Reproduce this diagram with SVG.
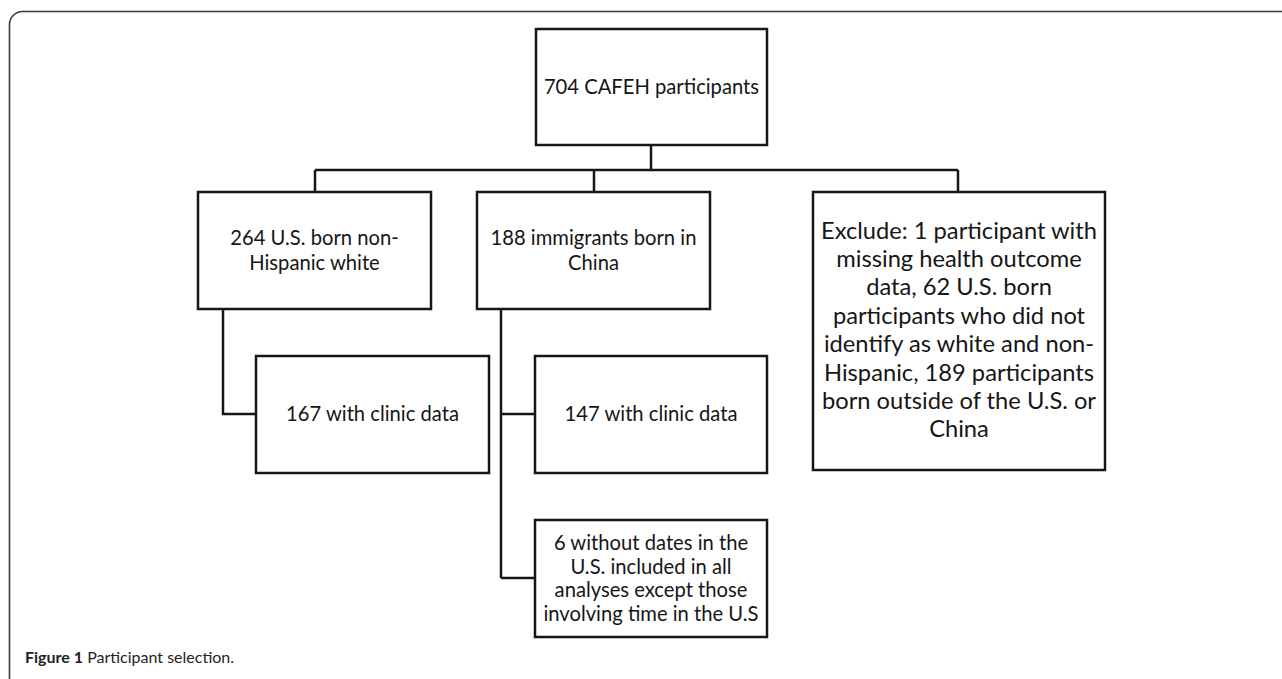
<svg xmlns="http://www.w3.org/2000/svg" width="1282" height="679" viewBox="0 0 1282 679">
<style>
.box{fill:#fff;stroke:#161616;stroke-width:2.5}
.conn{fill:none;stroke:#161616;stroke-width:2.5}
.t{font-family:Lato,"Liberation Sans",sans-serif;fill:#161616;text-anchor:middle}
.m{font-size:20.2px}
.l{font-size:23.7px}
.cap{font-family:Lato,"Liberation Sans",sans-serif;font-size:16px;fill:#222}
</style>
<rect width="1282" height="679" fill="#fff"/>
<path d="M9.5 679 V25 A13 13 0 0 1 22.5 11.5 H1282" fill="none" stroke="#3a3a3a" stroke-width="1.6"/>
<g id="connectors">
<path class="conn" d="M651 145 V170 M315 170 H958 M315 170 V192 M594 170 V192 M958 170 V192"/>
<path class="conn" d="M223 309 V414 H256"/>
<path class="conn" d="M501 309 V578 M501 414 H535 M501 578 H535"/>
</g>
<g id="n704">
<rect class="box" x="536" y="29" width="231" height="116"/>
<text class="t m" x="651.5" y="94">704 CAFEH participants</text>
</g>
<g id="n264">
<rect class="box" x="198" y="192" width="233" height="117"/>
<text class="t m" x="314.5" y="245">264 U.S. born non-</text>
<text class="t m" x="314.5" y="270">Hispanic white</text>
</g>
<g id="n188">
<rect class="box" x="477" y="192" width="233" height="117"/>
<text class="t m" x="593.5" y="245">188 immigrants born in</text>
<text class="t m" x="593.5" y="270">China</text>
</g>
<g id="nexclude">
<rect class="box" x="813" y="192" width="292" height="278"/>
<text class="t l" x="959" y="238.5">Exclude: 1 participant with</text>
<text class="t l" x="959" y="266.9">missing health outcome</text>
<text class="t l" x="959" y="295.3">data, 62 U.S. born</text>
<text class="t l" x="959" y="323.7">participants who did not</text>
<text class="t l" x="959" y="352.1">identify as white and non-</text>
<text class="t l" x="959" y="380.5">Hispanic, 189 participants</text>
<text class="t l" x="959" y="408.9">born outside of the U.S. or</text>
<text class="t l" x="959" y="437.3">China</text>
</g>
<g id="n167">
<rect class="box" x="256" y="356" width="233" height="117"/>
<text class="t m" x="372.5" y="421">167 with clinic data</text>
</g>
<g id="n147">
<rect class="box" x="535" y="356" width="232" height="117"/>
<text class="t m" x="651" y="421">147 with clinic data</text>
</g>
<g id="n6">
<rect class="box" x="535" y="520" width="232" height="117"/>
<text class="t m" x="651" y="550">6 without dates in the</text>
<text class="t m" x="651" y="573.5">U.S. included in all</text>
<text class="t m" x="651" y="597">analyses except those</text>
<text class="t m" x="651" y="620.5">involving time in the U.S</text>
</g>
<text class="cap" x="25" y="663"><tspan font-weight="bold">Figure 1</tspan> Participant selection.</text>
</svg>
